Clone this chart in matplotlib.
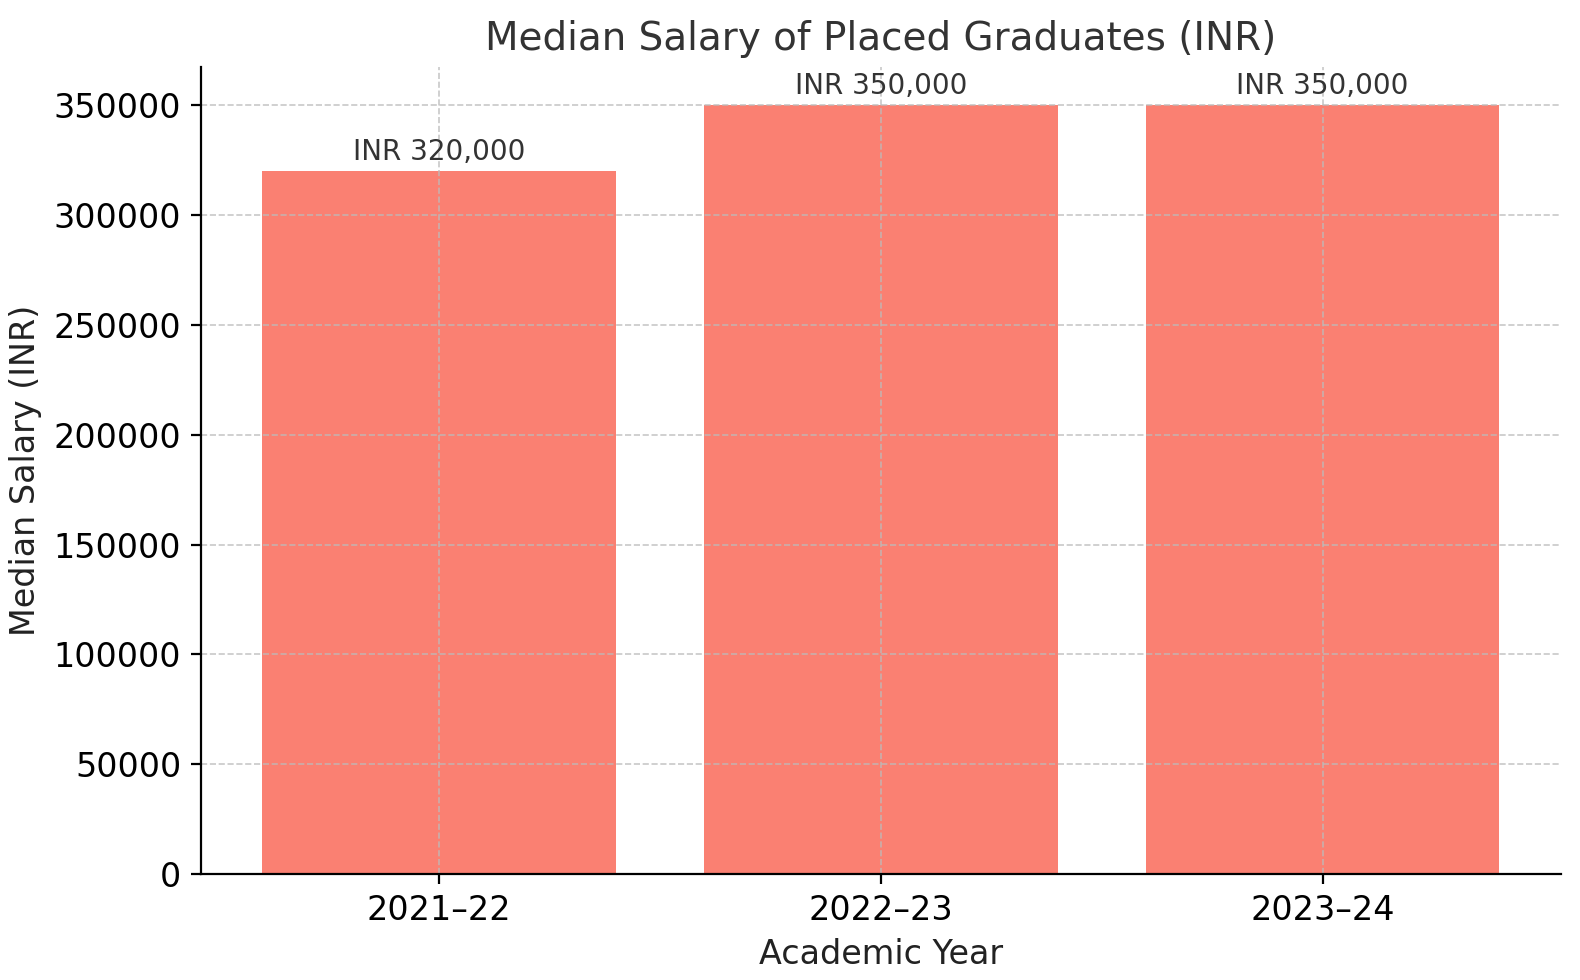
import matplotlib.pyplot as plt

years = ['2021–22', '2022–23', '2023–24']
salaries = [320000, 350000, 350000]
labels = ['INR 320,000', 'INR 350,000', 'INR 350,000']

plt.rcParams['text.color'] = '#333333'
fig, ax = plt.subplots(figsize=(7.9, 4.9), dpi=200)
bars = ax.bar(years, salaries, color='#FA8072')
for b, t in zip(bars, labels):
    ax.text(b.get_x() + b.get_width() / 2, b.get_height() + 2500, t,
            ha='center', va='bottom', fontsize=10, color='#333333')

ax.set_title('Median Salary of Placed Graduates (INR)', fontsize=14, color='#333333')
ax.set_xlabel('Academic Year', fontsize=12, color='#222222')
ax.set_ylabel('Median Salary (INR)', fontsize=12, color='#222222')
ax.tick_params(labelsize=12)
ax.grid(True, linestyle='--', color='#bbbbbb', alpha=0.8, linewidth=0.6)
for s in ['top', 'right']:
    ax.spines[s].set_visible(False)

fig.subplots_adjust(left=0.127, right=0.988, top=0.932, bottom=0.108)
plt.savefig('out.png', dpi=200)
